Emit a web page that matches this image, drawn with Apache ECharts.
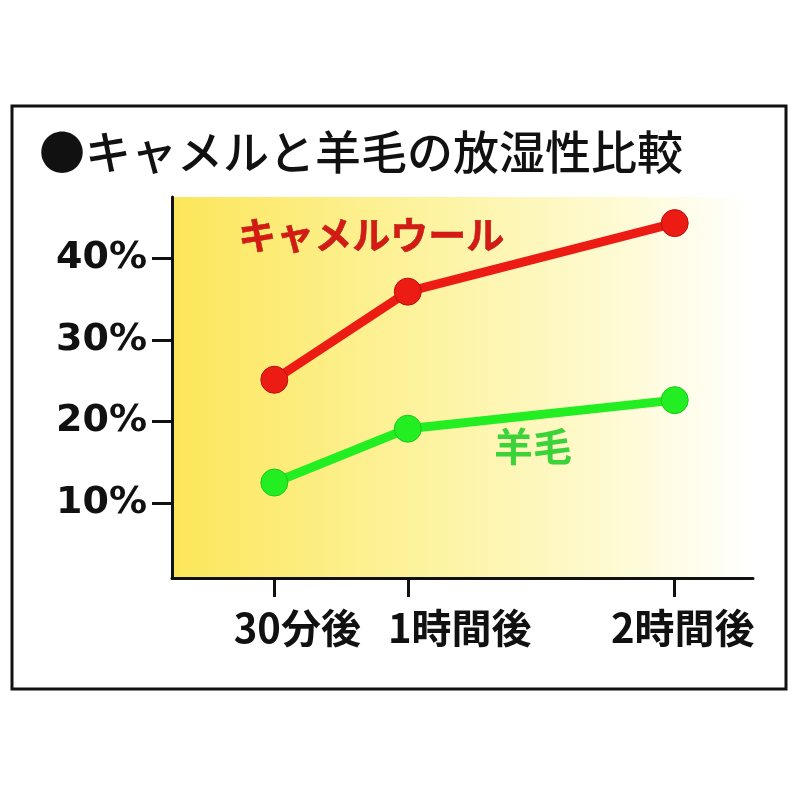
<!DOCTYPE html>
<html>
<head>
<meta charset="utf-8">
<script src="https://cdn.jsdelivr.net/npm/echarts@6/dist/echarts.min.js"></script>
<style>html,body{margin:0;padding:0;background:#fff;}#c{width:800px;height:800px;}</style>
</head>
<body>
<div id="c"></div>
<script>
// elapsed minutes after start
const minutes = [30, 60, 120];
const timeLabels = ['30分後', '1時間後', '2時間後'];
const camelValues = [25.1, 35.9, 44.3];
const woolValues = [12.5, 19.1, 22.6];
const yTicks = [10, 20, 30, 40];
const titleText = '●キャメルと羊毛の放湿性比較';
const camelName = 'キャメルウール';
const woolName = '羊毛';

const chart = echarts.init(document.getElementById('c'));
const jp = '"Noto Sans CJK JP", "Noto Sans", sans-serif';

// per-label horizontal nudge (style only), as in the original layout
const labelStyleKeys = ['a', 'b', 'c'];
const labelRich = {
  a: { padding: [0, 0, 0, 46], fontFamily: jp, fontSize: 40, fontWeight: 'bold', color: '#111' },
  b: { padding: [0, 0, 0, 104], fontFamily: jp, fontSize: 40, fontWeight: 'bold', color: '#111' },
  c: { padding: [0, 0, 0, 16], fontFamily: jp, fontSize: 40, fontWeight: 'bold', color: '#111' }
};
const labelMap = {};
minutes.forEach((m, i) => { labelMap[m] = '{' + labelStyleKeys[i] + '|' + timeLabels[i] + '}'; });

chart.setOption({
  backgroundColor: '#ffffff',
  animation: false,
  title: {
    text: titleText,
    left: 34, top: 124,
    textStyle: { fontFamily: jp, fontSize: 46, fontWeight: 500, color: '#111' }
  },
  graphic: [
    { type: 'rect', shape: { x: 12, y: 106, width: 774, height: 583 },
      style: { fill: null, stroke: '#111', lineWidth: 3 }, z: 100 },
    { type: 'text', left: 238, top: 215,
      style: { text: camelName, fontFamily: jp, fontSize: 38, fontWeight: 'bold',
               fill: '#d41a14', stroke: '#a01010', lineWidth: 0.5 }, z: 50 },
    { type: 'text', left: 494, top: 427,
      style: { text: woolName, fontFamily: jp, fontSize: 39, fontWeight: 'bold',
               fill: '#3ad43a' }, z: 50 }
  ],
  grid: {
    left: 172, right: 47, top: 197, bottom: 222,
    show: true, borderWidth: 0,
    backgroundColor: {
      type: 'linear', x: 0, y: 0, x2: 1, y2: 0,
      colorStops: [
        { offset: 0, color: '#fce65a' },
        { offset: 0.4, color: '#fdf29a' },
        { offset: 0.75, color: '#fefad0' },
        { offset: 1, color: '#ffffff' }
      ]
    }
  },
  xAxis: {
    type: 'value', min: 7, max: 137.6,
    splitLine: { show: false },
    axisLine: { show: true, onZero: false, lineStyle: { color: '#111', width: 3 } },
    axisTick: { show: true, customValues: minutes, length: 19, lineStyle: { color: '#111', width: 3 } },
    axisLabel: {
      customValues: minutes, margin: 30,
      formatter: v => labelMap[v] || '',
      rich: labelRich,
      fontFamily: jp, fontSize: 40, fontWeight: 'bold', color: '#111'
    }
  },
  yAxis: {
    type: 'value', min: 0.8, max: 47.5,
    splitLine: { show: false },
    axisLine: { show: true, lineStyle: { color: '#111', width: 3 } },
    axisTick: { show: true, customValues: yTicks, length: 20, lineStyle: { color: '#111', width: 3 } },
    axisLabel: {
      customValues: yTicks, margin: 25,
      formatter: v => v + '%',
      fontFamily: '"DejaVu Sans", sans-serif',
      fontSize: 38, fontWeight: 'bold', color: '#111'
    }
  },
  series: [
    {
      name: camelName, type: 'line',
      data: minutes.map((m, i) => [m, camelValues[i]]),
      symbol: 'circle', symbolSize: 27,
      lineStyle: { color: '#ec1c14', width: 9 },
      itemStyle: { color: '#ec1c14', borderColor: '#b81010', borderWidth: 1 },
      z: 10
    },
    {
      name: woolName, type: 'line',
      data: minutes.map((m, i) => [m, woolValues[i]]),
      symbol: 'circle', symbolSize: 27,
      lineStyle: { color: '#22ee22', width: 9 },
      itemStyle: { color: '#22ee22', borderColor: '#1cc81c', borderWidth: 1 },
      z: 10
    }
  ]
});
</script>
</body>
</html>
